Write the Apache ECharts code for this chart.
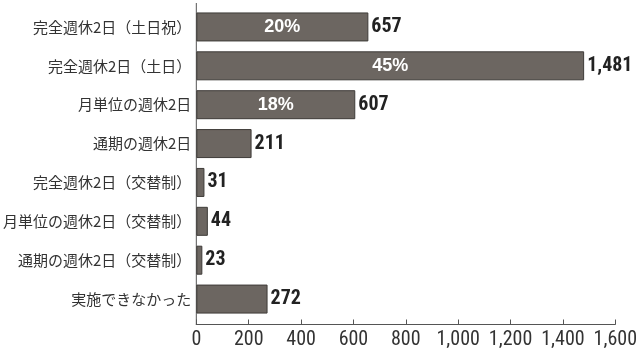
<!DOCTYPE html>
<html><head><meta charset="utf-8">
<script src="https://cdn.jsdelivr.net/npm/echarts@6/dist/echarts.min.js"></script>
<style>html,body{margin:0;padding:0;background:#fff}#c{width:640px;height:351px}</style>
</head><body><div id="c"></div>
<script>
const categories = ["完全週休2日（土日祝）","完全週休2日（土日）","月単位の週休2日","通期の週休2日","完全週休2日（交替制）","月単位の週休2日（交替制）","通期の週休2日（交替制）","実施できなかった"];
const values = [657,1481,607,211,31,44,23,272];
const shares = ["20%","45%","18%","","","","",""];
const xTicks = [0,200,400,600,800,1000,1200,1400,1600];

const numFont = "'Liberation Sans Narrow','Roboto Condensed','DejaVu Sans Condensed',sans-serif";
const pctFont = "'Liberation Sans',Arial,sans-serif";
const jpFont = "'Noto Sans CJK JP',sans-serif";
const chart = echarts.init(document.getElementById('c'), null, {renderer:'canvas'});
const fmt = v => v.toLocaleString('en-US');
chart.setOption({
  animation:false,
  grid:{left:196,right:22,top:7.5,height:311,containLabel:false},
  xAxis:{type:'value',min:xTicks[0],max:xTicks[xTicks.length-1],interval:200,offset:6,
    axisLine:{show:true,lineStyle:{color:'#555',width:1}},
    axisTick:{show:true,inside:true,length:5,lineStyle:{color:'#555'}},
    splitLine:{show:false},
    axisLabel:{color:'#333',fontSize:20,fontFamily:numFont,margin:5,formatter:v=>fmt(v)}},
  yAxis:{type:'category',data:categories,inverse:true,
    axisLine:{show:false},axisTick:{show:false},
    axisLabel:{color:'#333',fontSize:15,fontFamily:jpFont,margin:5}},
  series:[
    {type:'bar',data:values,barWidth:29,
      itemStyle:{color:'#6c6661',borderColor:'#3e3b38',borderWidth:1},
      label:{show:true,position:'right',distance:3,color:'#222',fontSize:20,fontWeight:'bold',fontFamily:numFont,formatter:p=>fmt(p.value)}},
    {type:'bar',data:values,barWidth:29,barGap:'-100%',silent:true,
      itemStyle:{color:'rgba(0,0,0,0)'},
      label:{show:true,position:'inside',color:'#fff',fontSize:18,fontWeight:'bold',fontFamily:pctFont,formatter:p=>shares[p.dataIndex]}}
  ]
});
const x0 = chart.convertToPixel({xAxisIndex:0}, 0);
chart.setOption({graphic:[{type:'line',shape:{x1:x0,y1:3,x2:x0,y2:325},style:{stroke:'#555',lineWidth:1}}]});
</script></body></html>
